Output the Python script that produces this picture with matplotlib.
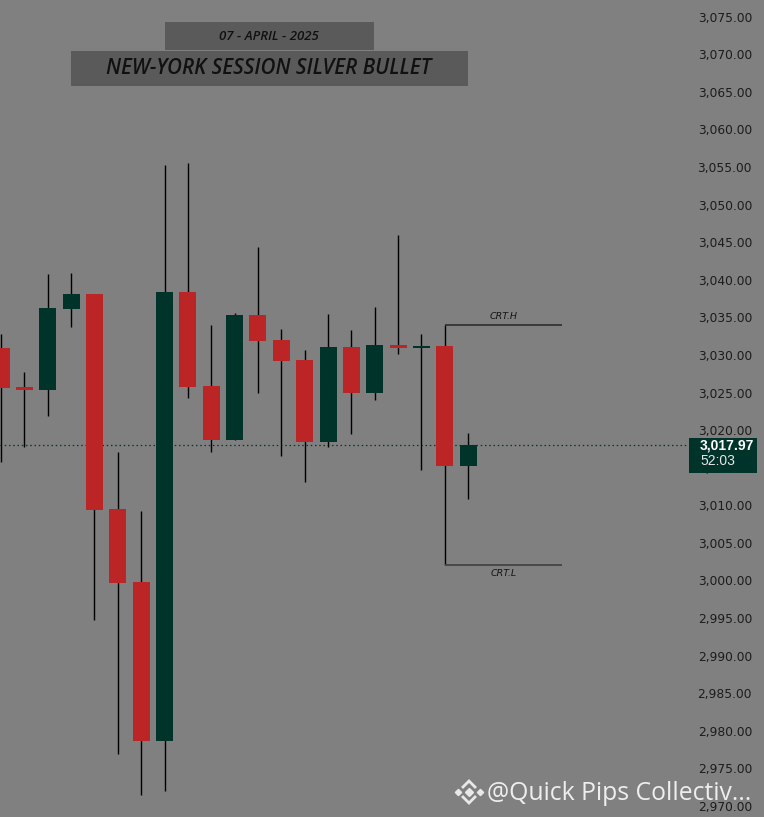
import matplotlib.pyplot as plt
import numpy as np
from matplotlib.patches import Rectangle
from matplotlib.lines import Line2D
import matplotlib.transforms as mtransforms

# OHLC values (one entry per candle, left to right)
opens = [3030.9, 3025.74, 3025.38, 3036.11, 3038.11, 3009.51, 2999.80, 2978.68, 3038.38, 3025.87,
         3018.69, 3035.32, 3031.99, 3029.33, 3018.46, 3031.06, 3024.98, 3031.33, 3030.97, 3031.19, 3015.27]
highs = [3032.8, 3027.73, 3040.77, 3040.90, 3038.11, 3017.09, 3009.24, 3055.27, 3055.54, 3033.99,
         3035.58, 3044.36, 3033.45, 3030.66, 3035.45, 3033.32, 3036.38, 3045.96, 3032.79, 3033.99, 3019.62]
lows = [3015.8, 3017.80, 3021.92, 3033.76, 2994.74, 2976.95, 2971.50, 2972.03, 3024.27, 3017.09,
        3018.69, 3024.98, 3016.60, 3013.14, 3017.80, 3019.53, 3024.05, 3030.17, 3014.74, 3002.06, 3010.84]
closes = [3025.61, 3025.38, 3036.25, 3038.11, 3009.41, 2999.70, 2978.68, 3038.38, 3025.74, 3018.69,
          3035.32, 3031.86, 3029.20, 3018.46, 3031.06, 3024.98, 3031.33, 3030.97, 3031.19, 3015.27, 3017.97]

crt_high = 3033.99
crt_low = 3002.06
crt_start = 19
crt_end = 24
last_price = 3017.97
countdown = '52:03'
price_ticks = np.arange(2970, 3076, 5)

BG = '#808080'
UP = '#00342a'
DOWN = '#bb2525'

fig = plt.figure(figsize=(7.64, 8.17), dpi=100)
fig.patch.set_facecolor(BG)
ax = fig.add_axes([0, 0, 1, 1])
ax.set_facecolor(BG)

x = np.arange(len(opens))
o = np.array(opens)
c = np.array(closes)
colors = [UP if cc >= oo else DOWN for oo, cc in zip(o, c)]

# wicks and bodies
ax.vlines(x, lows, highs, color='black', linewidth=1.0, zorder=2)
ax.bar(x, np.abs(c - o), bottom=np.minimum(o, c), width=0.73, color=colors, linewidth=0, zorder=3)

# CRT high / low lines
ax.hlines(crt_high, crt_start, crt_end, color='#262626', linewidth=1.1, zorder=2)
ax.hlines(crt_low, crt_start, crt_end, color='#444444', linewidth=1.3, zorder=2)
mid = (crt_start + crt_end) / 2
ax.text(mid, crt_high + 0.5, 'CRT.H', fontsize=6.8, style='italic', color='#151515',
        ha='center', va='bottom')
ax.text(mid, crt_low - 0.5, 'CRT.L', fontsize=6.8, style='italic', color='#151515',
        ha='center', va='top')

# last price dotted line
ax.axhline(last_price, xmin=0, xmax=689 / 764, color='#003a2c', linewidth=0.9,
           dashes=(1.2, 2.2), zorder=1)

ax.set_xlim(-1 / 23.36, 763 / 23.36)
ax.set_ylim(3075 - (817 - 16.7) / 7.517, 3075 + 16.7 / 7.517)

ax.set_xticks([])
ax.set_yticks(price_ticks)
ax.set_yticklabels([f'{v:,.2f}' for v in price_ticks])
ax.tick_params(axis='y', which='both', left=False, right=False, labelleft=False,
               labelright=True, length=0, pad=-8.6, labelsize=8.8, labelcolor='#1c1c1c')
for t in ax.yaxis.get_major_ticks():
    t.label2.set_horizontalalignment('right')
for s in ax.spines.values():
    s.set_visible(False)

# last price label box
trans = mtransforms.blended_transform_factory(ax.transAxes, ax.transData)
ax.add_patch(Rectangle((689 / 764, last_price - 3.66), 68 / 764, 4.66, transform=trans,
                       facecolor=UP, edgecolor='none', zorder=6, clip_on=False))
ax.text(700 / 764, last_price + 0.05, f'{last_price:,.2f}', transform=trans, fontsize=10,
        fontweight='bold', family='Liberation Sans', color='white', ha='left', va='center',
        zorder=7)
ax.text(700 / 764, last_price - 2.1, countdown, transform=trans, fontsize=10,
        family='Liberation Sans', color='#e6e6e6', ha='left', va='center', zorder=7)

# title boxes
W, H = 764, 817
def fig_box(x0, y0, x1, y1, color):
    fig.add_artist(Rectangle((x0 / W, 1 - y1 / H), (x1 - x0) / W, (y1 - y0) / H,
                             transform=fig.transFigure, facecolor=color, edgecolor='none'))

fig_box(165, 22, 374, 50, '#5a5a5a')
fig_box(71, 51, 468, 86, '#5a5a5a')
fig.text(269 / W, 1 - 36 / H, '07 - APRIL - 2025', fontsize=9.5, style='italic',
         fontweight='semibold', family='Open Sans', color='#111111', ha='center', va='center')
fig.text(268.5 / W, 1 - 68.5 / H, 'NEW-YORK SESSION SILVER BULLET', fontsize=14.9,
         style='italic', fontweight='semibold', family='Open Sans', color='#111111',
         ha='center', va='center')

# watermark
fig.text(487 / W, 1 - 793 / H, '@Quick Pips Collectiv...', fontsize=17.8, family='Open Sans',
         color='#eeeeee', ha='left', va='center')
cx, cy = 469, 792
def fig_line(xs, ys, lw):
    fig.add_artist(Line2D([v / W for v in xs], [1 - v / H for v in ys], transform=fig.transFigure,
                          color='#e8e8e8', linewidth=lw, solid_joinstyle='miter'))
for dx in (-11, 0, 11):
    fig.add_artist(Line2D([(cx + dx) / W], [1 - cy / H], transform=fig.transFigure, marker='D',
                          markersize=3.2 if dx else 3.6, color='#e8e8e8', linestyle='none'))
fig_line([cx - 6, cx, cx + 6], [cy - 5, cy - 11, cy - 5], 2.0)
fig_line([cx - 6, cx, cx + 6], [cy + 5, cy + 11, cy + 5], 2.0)

fig.savefig('out.png', dpi=100, facecolor=BG)
